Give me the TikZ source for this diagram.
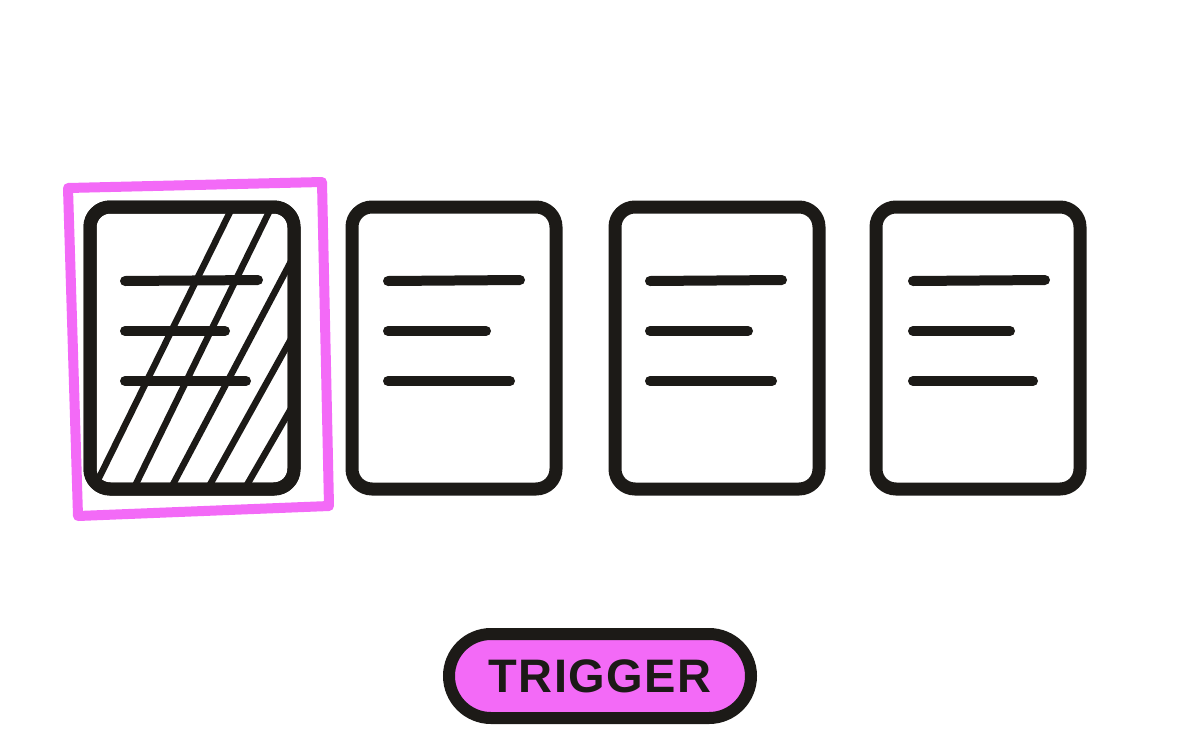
\documentclass[tikz,border=0pt]{standalone}
\usepackage{fontspec}
\setmainfont{Liberation Sans}
\definecolor{ink}{HTML}{1C1A17}
\definecolor{pinkish}{HTML}{F36AF7}
\tikzset{
  card/.style={draw=ink, line width=13pt, rounded corners=20pt, minimum width=204pt, minimum height=282pt, inner sep=0pt},
  textline/.style={draw=ink, line width=10pt, line cap=round},
  hatch/.style={draw=ink, line width=6.5pt, line cap=round},
  selbox/.style={draw=pinkish, line width=10pt, line join=round},
  trigbtn/.style={draw=ink, fill=pinkish, line width=12pt, rounded corners=42pt, minimum width=302pt, minimum height=84pt, inner sep=0pt, text=ink, font=\fontsize{47}{47}\selectfont\bfseries}
}
\begin{document}
\begin{tikzpicture}[x=1pt,y=-1pt]
\useasboundingbox (0,0) rectangle (1200,750);
% selection box
\draw[selbox] (68,188) -- (322,182) -- (329,506) -- (78,516) -- cycle;
% cards
\node[card] (c1) at (192,348) {};
\node[card] (c2) at (454,348) {};
\node[card] (c3) at (717,348) {};
\node[card] (c4) at (978,348) {};
% hatch in card 1
\begin{scope}
\clip[rounded corners=14pt] (96,213) rectangle (288,483);
\draw[hatch] (98,480) -- (232,208);
\draw[hatch] (133,490) -- (270,210);
\draw[hatch] (170,490) -- (296,252);
\draw[hatch] (207,490) -- (296,330);
\draw[hatch] (244,490) -- (296,400);
\end{scope}
\node[card] at (192,348) {};
% text lines
\foreach \c/\x/\a/\b/\d in {c1/125/258/225/246, c2/388/520/486/510, c3/650/782/748/772, c4/913/1045/1010/1033}{
  \draw[textline] (\x,281) -- (\a,280);
  \draw[textline] (\x,331) -- (\b,331);
  \draw[textline] (\x,381) -- (\d,381);
}
% trigger
\node[trigbtn] (trig) at (600,676) {\addfontfeature{LetterSpace=3}TRIGGER};
\end{tikzpicture}
\end{document}
